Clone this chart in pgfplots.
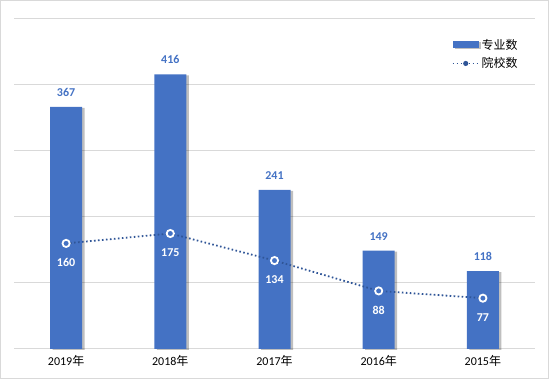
\documentclass[border=0pt]{standalone}
\usepackage{fontspec}
\setmainfont{Carlito}
\newfontfamily\cjk{Noto Sans CJK SC}
\usepackage{pgfplots}
\pgfplotsset{compat=1.18}
\usetikzlibrary{shadows}
\definecolor{barblue}{HTML}{4472C4}
\definecolor{lineblue}{HTML}{2F5597}
\definecolor{gridgray}{HTML}{D9D9D9}
\begin{document}
\begin{tikzpicture}
\begin{axis}[
  scale only axis,
  width=521pt, height=330pt,
  xmin=-0.5, xmax=4.5, ymin=0, ymax=500,
  xtick={0,1,2,3,4},
  xticklabels={{2019{\cjk 年}},{2018{\cjk 年}},{2017{\cjk 年}},{2016{\cjk 年}},{2015{\cjk 年}}},
  ytick={0,100,200,300,400,500},
  yticklabels={},
  ymajorgrids,
  grid style={draw=gridgray, line width=1pt},
  axis line style={draw=none},
  major tick length=0pt,
  tick style={draw=none},
  xticklabel style={font=\fontsize{12}{14}\selectfont, text=black, yshift=-3pt},
  /pgf/number format/assume math mode=true,
  clip=false,
  legend style={at={(rel axis cs:0.84,0.946)}, anchor=north west, draw=none, fill=none,
    font=\fontsize{12}{14}\selectfont\cjk, row sep=3pt, inner sep=0pt},
  legend cell align=left,
]
\coordinate (sw) at (rel axis cs:0,0);
\coordinate (ne) at (rel axis cs:1,1);
\addplot[ybar, bar width=32pt, fill=barblue, draw=none,
  drop shadow={shadow xshift=2.5pt, shadow yshift=-1pt, opacity=0.25, fill=black},
  nodes near coords,
  every node near coord/.append style={font=\fontsize{12}{14}\selectfont\bfseries, text=barblue, yshift=7pt},
  legend image code/.code={\fill[barblue] (0pt,-3.5pt) rectangle (26pt,3.5pt);}
] coordinates {(0,367) (1,416) (2,241) (3,149) (4,118)};
\addlegendentry{专业数}
\addplot[lineblue, line width=1.8pt, dash pattern=on 1.6pt off 2.4pt,
  mark=*, mark size=3.6pt,
  mark options={solid, fill=barblue, draw=white, line width=1.8pt},
  nodes near coords,
  every node near coord/.append style={font=\fontsize{12}{14}\selectfont\bfseries, text=white, anchor=north, yshift=-11pt},
  legend image code/.code={\draw[lineblue, line width=1.8pt, dash pattern=on 1.6pt off 2.4pt] (0pt,0pt) -- (26pt,0pt); \path[solid, fill=lineblue, draw=none] (13pt,0pt) circle (2.6pt);}
] coordinates {(0,160) (1,175) (2,134) (3,88) (4,77)};
\addlegendentry{院校数}
\end{axis}
\draw[gridgray, line width=1pt] ([shift={(-13.5pt,-29.5pt)}]sw) rectangle ([shift={(13.5pt,18.5pt)}]ne);
\pgfresetboundingbox
\useasboundingbox ([shift={(-14pt,-30pt)}]sw) rectangle ([shift={(14pt,19pt)}]ne);
\end{tikzpicture}
\end{document}
